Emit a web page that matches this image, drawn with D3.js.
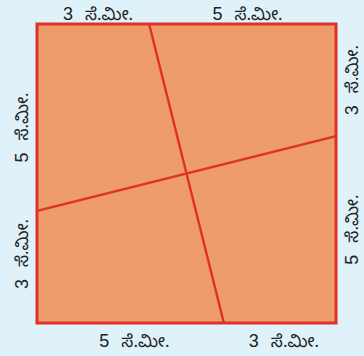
<!DOCTYPE html>
<html lang="kn">
<head>
<meta charset="UTF-8">
<title>Square cut</title>
<script src="https://cdnjs.cloudflare.com/ajax/libs/d3/7.8.5/d3.min.js"></script>
<style>
  body { margin: 0; background: #dff2fa; }
  svg { display: block; }
  text { font-family: "Liberation Sans", "Noto Sans", sans-serif; font-size: 18px; fill: #222; }
  tspan.u { font-family: "Noto Sans", "Noto Sans Kannada", sans-serif; font-size: 17px; }
</style>
</head>
<body>
<div id="chart"></div>
<script>
  const width = 364, height = 356;

  // side of the square, split into two parts
  const side = 8;
  const parts = [3, 5];
  const unit = "ಸೆ.ಮೀ.";

  // the two cut lines, in square units
  const cuts = [
    [[3, 8], [5, 0]],
    [[0, 3], [8, 5]]
  ];

  const x = d3.scaleLinear().domain([0, side]).range([37, 336]);
  const y = d3.scaleLinear().domain([0, side]).range([323, 24]);

  const svg = d3.select("#chart").append("svg")
    .attr("width", width).attr("height", height);

  svg.append("rect")
    .attr("x", x(0)).attr("y", y(side))
    .attr("width", x(side) - x(0)).attr("height", y(0) - y(side))
    .attr("fill", "#ee9d6a")
    .attr("stroke", "#e0302a")
    .attr("stroke-width", 3);

  const line = d3.line().x(d => x(d[0])).y(d => y(d[1]));
  svg.selectAll("path.cut")
    .data(cuts)
    .join("path")
    .attr("class", "cut")
    .attr("d", line)
    .attr("fill", "none")
    .attr("stroke", "#e0302a")
    .attr("stroke-width", 2.5);

  const topParts = parts, bottomParts = [...parts].reverse();

  function mids(arr) {
    let s = 0;
    return arr.map(v => { const m = s + v / 2; s += v; return { v, m }; });
  }

  function addLabel(sel) {
    sel.append("tspan").text(d => d.v);
    sel.append("tspan").attr("class", "u").attr("dx", 12).text(unit);
  }

  svg.selectAll("text.top").data(mids(topParts)).join("text")
    .attr("class", "top")
    .attr("x", d => x(d.m) + 5).attr("y", 20)
    .attr("text-anchor", "middle")
    .call(addLabel);

  svg.selectAll("text.bottom").data(mids(bottomParts)).join("text")
    .attr("class", "bottom")
    .attr("x", d => x(d.m) + 4).attr("y", 347)
    .attr("text-anchor", "middle")
    .call(addLabel);

  // left side: measured from the bottom up
  svg.selectAll("text.left").data(mids(parts)).join("text")
    .attr("class", "left")
    .attr("transform", d => `translate(28,${y(d.m) + (d.v === 3 ? -13 : 10)}) rotate(-90)`)
    .attr("text-anchor", "middle")
    .call(addLabel);

  // right side: measured from the top down
  svg.selectAll("text.right").data(mids(parts)).join("text")
    .attr("class", "right")
    .attr("transform", d => `translate(358,${y(side - d.m)}) rotate(-90)`)
    .attr("text-anchor", "middle")
    .call(addLabel);
</script>
</body>
</html>
